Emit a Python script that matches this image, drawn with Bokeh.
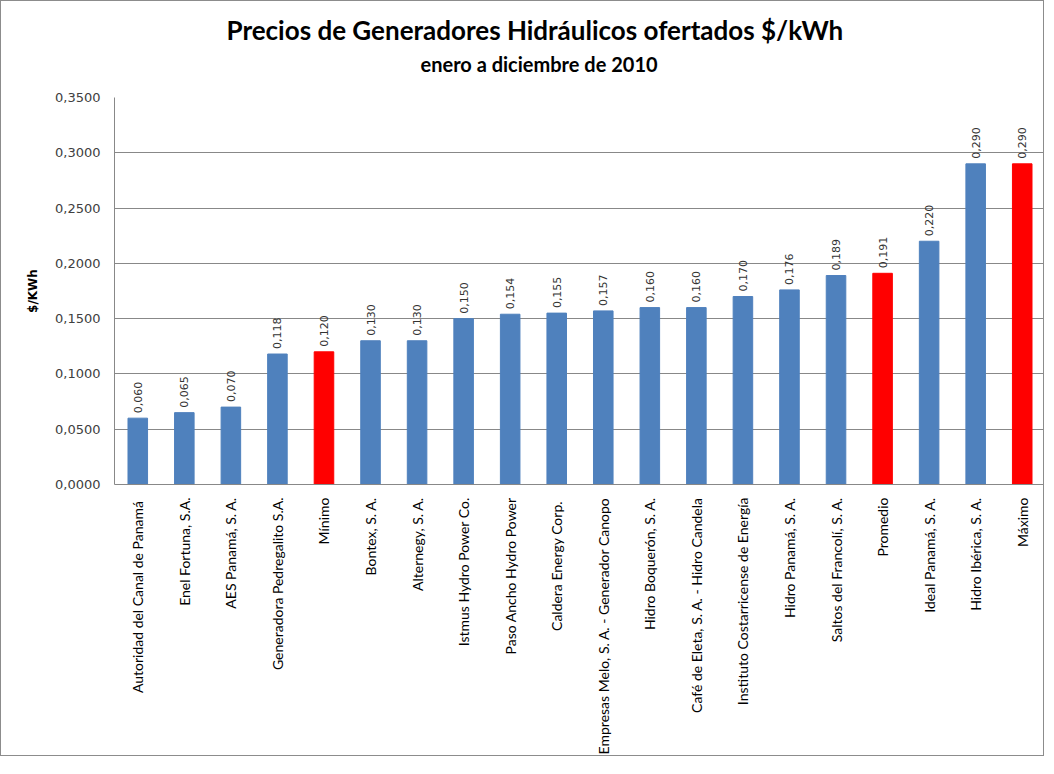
import math
from bokeh.plotting import figure
from bokeh.models import (ColumnDataSource, Range1d, FactorRange, FixedTicker,
                          CustomJSTickFormatter, LabelSet, Title)
from bokeh.core.properties import value
from bokeh.embed import file_html
from bokeh.resources import INLINE

# ---------------- data ----------------
categories = [
    "Autoridad del Canal  de Panamá",
    "Enel Fortuna, S.A.",
    "AES Panamá, S. A.",
    "Generadora Pedregalito S.A.",
    "Mínimo",
    "Bontex, S. A.",
    "Alternegy, S. A.",
    "Istmus Hydro Power Co.",
    "Paso Ancho Hydro Power",
    "Caldera Energy  Corp.",
    "Empresas Melo, S. A. - Generador Canopo",
    "Hidro Boquerón, S. A.",
    "Café de Eleta, S. A. - Hidro Candela",
    "Instituto Costarricense de Energía",
    "Hidro Panamá, S. A.",
    "Saltos del Francolí, S. A.",
    "Promedio",
    "Ideal Panamá, S. A.",
    "Hidro Ibérica, S. A.",
    "Máximo",
]
prices = [0.060, 0.065, 0.070, 0.118, 0.120, 0.130, 0.130, 0.150, 0.154, 0.155,
          0.157, 0.160, 0.160, 0.170, 0.176, 0.189, 0.191, 0.220, 0.290, 0.290]
highlighted = ["Mínimo", "Promedio", "Máximo"]
y_ticks = [0.0, 0.05, 0.10, 0.15, 0.20, 0.25, 0.30, 0.35]

title_text = "Precios de Generadores Hidráulicos ofertados $/kWh"
subtitle_text = "enero a diciembre de 2010"
y_label = "$/KWh"

BLUE = "#4F81BD"
RED = "#FF0000"

colors = [RED if c in highlighted else BLUE for c in categories]
labels = [("%.3f" % v).replace(".", ",") for v in prices]

src = ColumnDataSource(dict(cat=categories, price=prices, color=colors, label=labels))

y_max = y_ticks[-1]

p = figure(width=1044, height=756, output_backend="svg", toolbar_location=None,
           x_range=FactorRange(factors=categories, range_padding=0),
           y_range=Range1d(0, y_max),
           min_border_left=113, min_border_right=0, min_border_top=96,
           min_border_bottom=272)
p.styles = {"border": "1px solid #8c8c8c"}
p.outline_line_color = None
p.background_fill_color = "white"
p.border_fill_color = "white"

# titles
p.title.text = title_text
p.title.align = "left"
p.title.offset = 112
p.title.standoff = -36
p.title.text_font = "Lato"
p.title.text_font_size = "26px"
p.title.text_font_style = "bold"
p.title.text_color = "#000000"
sub = Title(text=subtitle_text, align="left", offset=306, text_font="Lato",
            text_font_size="20px", text_font_style="bold", text_color="#000000",
            standoff=44)
p.add_layout(sub, "above")

p.vbar(x="cat", top="price", width=0.42, fill_color="color", line_color="color",
       source=src)

vl = LabelSet(x="cat", y="price", text="label", source=src, angle=math.pi / 2,
              text_align="left", text_baseline="middle", y_offset=5,
              text_font=value("DejaVu Sans"), text_font_size=value("11px"),
              text_color="#333333")
p.add_layout(vl)

# grid & axes
p.xgrid.grid_line_color = None
p.ygrid.grid_line_color = "#888888"
p.ygrid.grid_line_width = 1
p.yaxis.ticker = FixedTicker(ticks=y_ticks)
p.yaxis.formatter = CustomJSTickFormatter(code="return tick.toFixed(4).replace('.', ',');")
p.yaxis.major_label_text_font = "DejaVu Sans"
p.yaxis.major_label_text_font_size = "13px"
p.yaxis.major_label_text_color = "#404040"
p.yaxis.major_tick_out = 0
p.yaxis.major_tick_in = 0
p.yaxis.minor_tick_out = 0
p.yaxis.minor_tick_in = 0
p.yaxis.major_label_standoff = 14
p.yaxis.axis_line_color = "#888888"
p.yaxis.axis_label = y_label
p.yaxis.axis_label_text_font = "DejaVu Sans"
p.yaxis.axis_label_text_font_size = "12px"
p.yaxis.axis_label_text_font_style = "bold"
p.yaxis.axis_label_text_color = "#000000"
p.yaxis.axis_label_standoff = 12

p.xaxis.major_label_orientation = math.pi / 2
p.xaxis.major_label_text_font = "Lato"
p.xaxis.major_label_text_font_size = "14px"
p.xaxis.major_label_text_color = "#000000"
p.xaxis.major_tick_out = 0
p.xaxis.major_tick_in = 0
p.xaxis.major_label_standoff = 13
p.xaxis.axis_line_color = "#888888"

open("out.html", "w").write(file_html(p, INLINE))
